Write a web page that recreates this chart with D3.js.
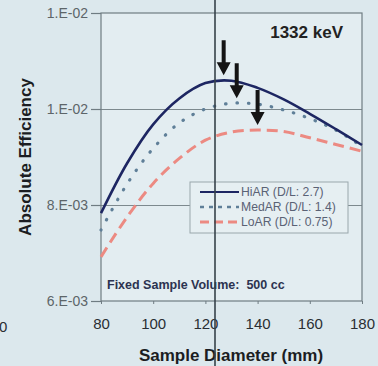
<!DOCTYPE html>
<html>
<head>
<meta charset="utf-8">
<script src="https://cdn.jsdelivr.net/npm/d3@7"></script>
<style>
  html, body { margin: 0; padding: 0; background: #dce8ed; }
  svg { display: block; font-family: "Liberation Sans", Arial, sans-serif; }
</style>
</head>
<body>
<svg id="chart" width="378" height="366"></svg>
<script>
// ---- data ----
const diameters = [80, 90, 100, 110, 120, 130, 140, 150, 160, 170, 180];
const hiAR  = [0.00783, 0.00887, 0.00968, 0.01022, 0.01054, 0.01059, 0.01044, 0.01020, 0.00990, 0.00958, 0.00925];
const medAR = [0.00748, 0.00844, 0.00918, 0.00971, 0.01000, 0.01012, 0.01010, 0.00998, 0.00980, 0.00956, 0.00922];
const loAR  = [0.00692, 0.00775, 0.00845, 0.00897, 0.00935, 0.00952, 0.00956, 0.00953, 0.00940, 0.00926, 0.00912];
const seriesNames = ["HiAR (D/L: 2.7)", "MedAR (D/L: 1.4)", "LoAR (D/L: 0.75)"];
const arrowX = [127, 132, 140];
const arrowPeak = [0.01060, 0.01012, 0.00956];
const xTicks = [80, 100, 120, 140, 160, 180];
const yTicks = [0.006, 0.008, 0.010, 0.012];
const yTickLabels = ["6.E-03", "8.E-03", "1.E-02", "1.E-02"];

// ---- layout ----
const svg = d3.select("#chart");
const L = 101, R = 362, T = 13, B = 301;
const x = d3.scaleLinear().domain([80, 180]).range([L, R]);
const y = d3.scaleLinear().domain([0.006, 0.012]).range([B, T]);

// plot background
svg.append("rect").attr("x", L).attr("y", T).attr("width", R - L).attr("height", B - T)
  .attr("fill", "#e3edf1");

// gridlines
const grid = svg.append("g").attr("transform", `translate(${L},0)`)
  .call(d3.axisLeft(y).tickValues([0.008, 0.010]).tickSize(-(R - L)).tickFormat(""));
grid.select(".domain").remove();
grid.selectAll("line").attr("stroke", "#7d898e").attr("stroke-width", 1.2);

// border
svg.append("rect").attr("x", L).attr("y", T).attr("width", R - L).attr("height", B - T)
  .attr("fill", "none").attr("stroke", "#6f7c82").attr("stroke-width", 1.2);

// y axis
const ya = svg.append("g").attr("transform", `translate(${L},0)`)
  .call(d3.axisLeft(y).tickValues(yTicks).tickSize(10).tickPadding(3)
    .tickFormat((d, i) => yTickLabels[i]));
ya.select(".domain").remove();
ya.selectAll("line").attr("stroke", "#6f7c82").attr("stroke-width", 1.2);
ya.selectAll("text").attr("font-size", 14).attr("fill", "#5d6569")
  .attr("font-family", "Liberation Sans, Arial, sans-serif");

// x axis
const xa = svg.append("g").attr("transform", `translate(0,${B})`)
  .call(d3.axisBottom(x).tickValues(xTicks).tickSize(3).tickPadding(14));
xa.select(".domain").remove();
xa.selectAll("line").attr("stroke", "#6f7c82");
xa.selectAll("text").attr("font-size", 15).attr("fill", "#2a2e33")
  .attr("font-family", "Liberation Sans, Arial, sans-serif");

// lines
const line = d3.line().x((d, i) => x(diameters[i])).y(d => y(d)).curve(d3.curveCatmullRom.alpha(0.5));
svg.append("path").datum(loAR).attr("d", line).attr("fill", "none")
  .attr("stroke", "#ec8a82").attr("stroke-width", 3).attr("stroke-dasharray", "11,6");
svg.append("path").datum(medAR).attr("d", line).attr("fill", "none")
  .attr("stroke", "#5f7f98").attr("stroke-width", 3.2).attr("stroke-linecap", "round")
  .attr("stroke-dasharray", "0.5,11");
svg.append("path").datum(hiAR).attr("d", line).attr("fill", "none")
  .attr("stroke", "#1d2662").attr("stroke-width", 2.6);

// arrows
arrowX.forEach((ax, i) => {
  const px = x(ax), tip = y(arrowPeak[i]) - 5, top = tip - 35;
  svg.append("path")
    .attr("d", `M${px - 2},${top} L${px + 2},${top} L${px + 2},${tip - 13} L${px + 7},${tip - 13} L${px},${tip} L${px - 7},${tip - 13} L${px - 2},${tip - 13} Z`)
    .attr("fill", "#141414");
});

// legend
const lg = svg.append("g");
lg.append("rect").attr("x", 190).attr("y", 182).attr("width", 158).attr("height", 51)
  .attr("fill", "#e6eff2").attr("stroke", "#9aa7ac").attr("stroke-width", 1);
const legStyles = [
  { stroke: "#1d2662", dash: null, w: 2.2 },
  { stroke: "#5f7f98", dash: "4,5", w: 2.5 },
  { stroke: "#ec8a82", dash: "9,5", w: 2.8 }
];
seriesNames.forEach((name, i) => {
  const yy = 192 + i * 15;
  const s = legStyles[i];
  const ln = lg.append("line").attr("x1", 200).attr("x2", 239).attr("y1", yy).attr("y2", yy)
    .attr("stroke", s.stroke).attr("stroke-width", s.w);
  if (s.dash) ln.attr("stroke-dasharray", s.dash);
  lg.append("text").attr("x", 241).attr("y", yy + 4).attr("font-size", 12.2)
    .attr("fill", "#5a6275").text(name);
});

// annotations
svg.append("text").attr("x", 343).attr("y", 38).attr("text-anchor", "end")
  .attr("font-size", 17).attr("font-weight", "bold").attr("fill", "#222").text("1332 keV");
svg.append("text").attr("x", 107).attr("y", 289).attr("font-size", 12.5).attr("font-weight", "bold")
  .attr("fill", "#2c3350").style("white-space", "pre").text("Fixed Sample Volume:  500 cc");

// axis titles
svg.append("text").attr("x", 231).attr("y", 361).attr("text-anchor", "middle")
  .attr("font-size", 17).attr("font-weight", "bold").attr("fill", "#1b1d22").text("Sample Diameter (mm)");
svg.append("text").attr("transform", "translate(31,157) rotate(-90)").attr("text-anchor", "middle")
  .attr("font-size", 17).attr("font-weight", "bold").attr("fill", "#1b1d22").text("Absolute Efficiency");

// fragment from neighbouring chart at left edge
svg.append("text").attr("x", -1).attr("y", 332).attr("font-size", 15).attr("fill", "#2a2e33").text("0");

// scan fold line
svg.append("line").attr("x1", 215).attr("x2", 215).attr("y1", 0).attr("y2", 366)
  .attr("stroke", "#36424a").attr("stroke-width", 1.6);
</script>
</body>
</html>
